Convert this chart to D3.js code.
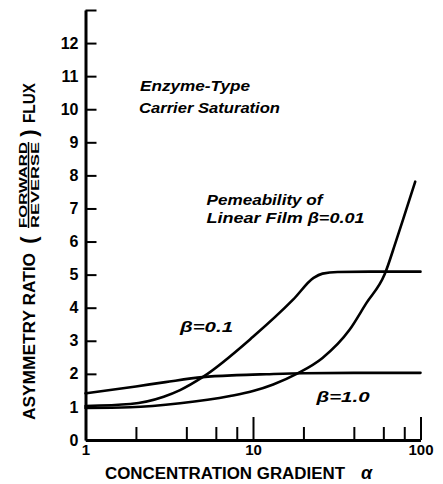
<!DOCTYPE html>
<html>
<head>
<meta charset="utf-8">
<script src="https://cdn.jsdelivr.net/npm/d3@7"></script>
<style>
  body { margin: 0; background: #fff; }
  svg { display: block; }
  .lbl { font-family: "Liberation Sans", Arial, sans-serif; fill: #000; font-weight: bold; }
</style>
</head>
<body>
<svg width="443" height="484"></svg>
<script>
// values (alpha = concentration gradient, ratio = asymmetry ratio)
const beta1Alpha = [1, 2, 3, 5, 8, 12, 20, 40, 100];
const beta1Ratio = [1.41, 1.62, 1.75, 1.90, 1.96, 1.99, 2.02, 2.03, 2.03];

const beta01Alpha = [1, 1.85, 2.93, 3.67, 5, 10, 17.4, 23, 26, 32, 50, 100];
const beta01Ratio = [1.03, 1.09, 1.31, 1.51, 1.90, 3.12, 4.25, 4.9, 5.03, 5.08, 5.09, 5.09];

const beta001Alpha = [1, 1.85, 3.67, 7.3, 10, 13.2, 18.6, 26, 37.7, 47.4, 61, 71.5, 82, 93];
const beta001Ratio = [0.97, 0.99, 1.11, 1.33, 1.48, 1.68, 2.02, 2.48, 3.33, 4.13, 5.0, 6.02, 6.95, 7.81];

const xTicks = [1, 2, 4, 6, 8, 10, 20, 40, 60, 80, 100];
const xLabelled = [1, 10, 100];
const yTicks = d3.range(0, 14);

const svg = d3.select("svg");

const x = d3.scaleLog().domain([1, 100]).range([85.5, 420.5]);
const y = d3.scaleLinear().domain([0, 13]).range([440, 10]);

const line = d3.line()
  .x(d => x(d[0]))
  .y(d => y(d[1]))
  .curve(d3.curveMonotoneX);

const zip = (a, b) => a.map((v, i) => [v, b[i]]);

[zip(beta1Alpha, beta1Ratio), zip(beta01Alpha, beta01Ratio), zip(beta001Alpha, beta001Ratio)]
  .forEach(pts => {
    svg.append("path")
      .attr("d", line(pts))
      .attr("fill", "none")
      .attr("stroke", "#000")
      .attr("stroke-width", 2.6)
      .attr("stroke-linecap", "round");
  });

// x axis, ticks pointing up into the plot
const gx = svg.append("g")
  .attr("transform", "translate(0,440)")
  .call(d3.axisBottom(x)
    .tickValues(xTicks)
    .tickSize(-13)
    .tickSizeOuter(0)
    .tickPadding(4)
    .tickFormat(d => xLabelled.includes(d) ? d : ""));
gx.select(".domain").attr("stroke-width", 3);
gx.selectAll(".tick line")
  .attr("stroke-width", 2)
  .attr("y2", d => d === 1 ? 0 : (d === 10 || d === 100 ? -23 : -13));
gx.selectAll(".tick text")
  .attr("class", "lbl")
  .attr("font-size", 15);

// y axis, ticks pointing right
const gy = svg.append("g")
  .attr("transform", "translate(85.5,0)")
  .call(d3.axisLeft(y)
    .tickValues(yTicks)
    .tickSize(-11)
    .tickSizeOuter(0)
    .tickPadding(7)
    .tickFormat(d => d === 13 ? "" : d));
gy.select(".domain").attr("stroke-width", 3);
gy.selectAll(".tick line").attr("stroke-width", 2);
gy.selectAll(".tick text")
  .attr("class", "lbl")
  .attr("font-size", 16);

// x title
svg.append("text").attr("class", "lbl")
  .attr("x", 105).attr("y", 479)
  .attr("font-size", 16)
  .attr("textLength", 240).attr("lengthAdjust", "spacingAndGlyphs")
  .text("CONCENTRATION GRADIENT");
svg.append("text").attr("class", "lbl")
  .attr("x", 361).attr("y", 479)
  .attr("font-size", 18).attr("font-style", "italic")
  .text("α");

// y title, rotated
const yt = svg.append("g").attr("transform", "rotate(-90)");
yt.append("text").attr("class", "lbl")
  .attr("x", -420).attr("y", 35)
  .attr("font-size", 16)
  .attr("textLength", 167).attr("lengthAdjust", "spacingAndGlyphs")
  .text("ASYMMETRY RATIO");
yt.append("text").attr("class", "lbl")
  .attr("x", -240).attr("y", 36).attr("text-anchor", "middle")
  .attr("font-size", 22).attr("font-weight", "normal")
  .text("(");
yt.append("text").attr("class", "lbl")
  .attr("x", -228).attr("y", 26.5)
  .attr("font-size", 11.5)
  .attr("textLength", 86).attr("lengthAdjust", "spacingAndGlyphs")
  .text("FORWARD");
yt.append("line")
  .attr("x1", -228).attr("x2", -142)
  .attr("y1", 28.5).attr("y2", 28.5)
  .attr("stroke", "#000").attr("stroke-width", 1.5);
yt.append("text").attr("class", "lbl")
  .attr("x", -228).attr("y", 39)
  .attr("font-size", 11.5)
  .attr("textLength", 86).attr("lengthAdjust", "spacingAndGlyphs")
  .text("REVERSE");
yt.append("text").attr("class", "lbl")
  .attr("x", -133).attr("y", 36).attr("text-anchor", "middle")
  .attr("font-size", 22).attr("font-weight", "normal")
  .text(")");
yt.append("text").attr("class", "lbl")
  .attr("x", -123).attr("y", 35)
  .attr("font-size", 16)
  .attr("textLength", 40).attr("lengthAdjust", "spacingAndGlyphs")
  .text("FLUX");

// annotations
const notes = [
  {t: "Enzyme-Type", x: 140, y: 90.5, w: 110},
  {t: "Carrier Saturation", x: 139, y: 113, w: 141},
  {t: "Pemeability of", x: 206.5, y: 205, w: 116},
  {t: "Linear Film β=0.01", x: 206.5, y: 223, w: 158},
  {t: "β=0.1", x: 180, y: 331.5, w: 53},
  {t: "β=1.0", x: 316.5, y: 401.5, w: 53}
];
svg.selectAll(".note")
  .data(notes)
  .enter()
  .append("text")
  .attr("class", "lbl note")
  .attr("x", d => d.x).attr("y", d => d.y)
  .attr("font-size", 15)
  .attr("font-style", "italic")
  .attr("textLength", d => d.w).attr("lengthAdjust", "spacingAndGlyphs")
  .text(d => d.t);
</script>
</body>
</html>
